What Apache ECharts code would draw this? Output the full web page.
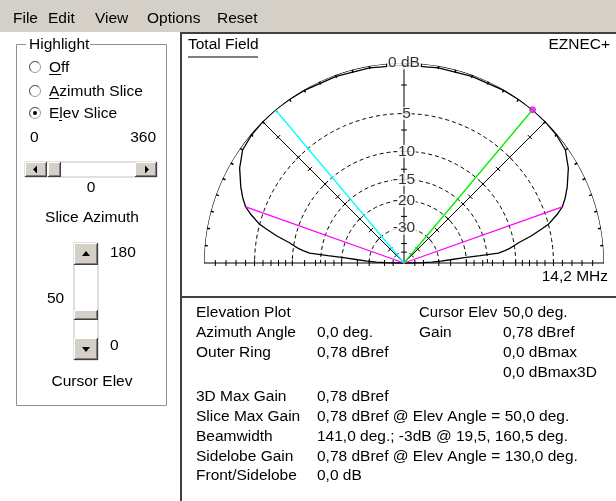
<!DOCTYPE html>
<html>
<head>
<meta charset="utf-8">
<script src="https://cdn.jsdelivr.net/npm/echarts@6/dist/echarts.min.js"></script>
<style>
html, body { margin: 0; padding: 0; background: #fff; }
#chart { width: 616px; height: 501px; }
</style>
</head>
<body>
<div id="chart"></div>
<script>
// ---- Elevation pattern: elevation angle (deg) and field gain (dB below slice max) ----
const elevAngles = [0, 1, 2, 3, 4, 5, 5.5, 6, 7, 8, 9, 10, 12, 14, 15, 17.5, 19.5, 22, 25, 30, 35, 40, 45, 50, 55, 60, 70, 80, 90,
  100, 110, 120, 125, 130, 135, 140, 145, 150, 155, 158, 160.5, 162.5, 165, 166, 168, 170, 171, 172, 173, 174, 174.5, 175, 176, 177, 178, 179, 180];
const gainDb = [-99, -40, -34, -29, -25, -21, -16.5, -12.8, -11.6, -10.7, -10.0, -9.3, -7.4, -5.8, -5.0, -3.8, -3.0, -2.4, -1.8, -0.9, -0.26, -0.08, -0.02, 0, -0.02, -0.06, -0.12, -0.16, -0.18,
  -0.16, -0.12, -0.06, -0.02, 0, -0.02, -0.08, -0.26, -0.9, -1.8, -2.4, -3.0, -3.8, -5.0, -5.8, -7.4, -9.3, -10.0, -10.7, -11.6, -12.8, -16.5, -21, -25, -29, -34, -40, -99];

// Reference rings and their labels on the vertical axis
const ringDb = [-5, -10, -15, -20, -30];
const axisLabels = ['0 dB', '-5', '-10', '-15', '-20', '-30'];
const axisLabelDb = [0, -5, -10, -15, -20, -30];
// Scale tick levels along the horizon and the radial axes
const baseTickDb = [-1, -2, -3, -4, -5, -6, -7, -8, -9, -10, -12, -14, -16, -18, -20, -25, -30, -40, -50];
const radialTickDb = [-2, -5, -7, -10, -13, -15, -20, -25, -30, -40, -50];
const ringTickAngles = [5, 10, 15, 20, 25, 30, 35, 40, 45, 50, 55, 60, 65, 70, 75, 80, 85, 95, 100, 105, 110, 115, 120, 125, 130, 135, 140, 145, 150, 155, 160, 165, 170, 175];

// Cursor / lobe readouts
const cursorElev = 50.0;
const cursorGainDbref = 0.78;
const sidelobeElev = 130.0;
const halfPowerElev = [19.5, 160.5];
const halfPowerDb = -3;
const freqLabel = '14,2 MHz';

const menuItems = ['File', 'Edit', 'View', 'Options', 'Reset'];
const radioItems = ['Off', 'Azimuth Slice', 'Elev Slice'];

// ARRL log-periodic radial scale: 0.89 per 2 dB
const arrl = db => Math.pow(0.89, -db / 2);
const fmt = v => v.toFixed(1).replace('.', ',');
const fmt2 = v => v.toFixed(2).replace('.', ',');

const FONT = '"Liberation Sans", Arial, sans-serif';
const FS = 15.5;

// semicircle sampling for reference arcs
const arcSteps = [];
for (let a = 0; a <= 180; a += 1) arcSteps.push(a);

const series = [];

// dashed rings
ringDb.forEach(db => {
  series.push({
    type: 'line', coordinateSystem: 'polar', silent: true, symbol: 'none', z: 2,
    data: arcSteps.map(a => [arrl(db), a]),
    lineStyle: { color: '#000', width: 1, type: [4, 3] }
  });
});

// outer ring (0 dB)
series.push({
  type: 'line', coordinateSystem: 'polar', silent: true, symbol: 'none', z: 3,
  data: arcSteps.map(a => [1, a]),
  lineStyle: { color: '#000', width: 1.2 }
});

// horizon baseline and radial axes
series.push({
  type: 'line', coordinateSystem: 'polar', silent: true, symbol: 'none', z: 3,
  data: [[1, 0], [0, 0], [0, 180], [1, 180]],
  lineStyle: { color: '#000', width: 1.2 }
});
[45, 90, 135].forEach(a => {
  series.push({
    type: 'line', coordinateSystem: 'polar', silent: true, symbol: 'none', z: 3,
    data: [[0, a], [1, a]],
    lineStyle: { color: '#000', width: 1 }
  });
});

// scale ticks across the axes
const tickData = [];
[0, 180].forEach(a => baseTickDb.forEach(db => tickData.push([arrl(db), a])));
[45, 90, 135].forEach(a => radialTickDb.forEach(db => tickData.push([arrl(db), a])));
series.push({
  type: 'custom', coordinateSystem: 'polar', silent: true, z: 4,
  data: tickData,
  renderItem: (params, api) => {
    const a = api.value(1) * Math.PI / 180;
    const p = api.coord([api.value(0), api.value(1)]);
    const L = 3, px = Math.sin(a), py = Math.cos(a);
    return { type: 'line', shape: { x1: p[0] - L * px, y1: p[1] - L * py, x2: p[0] + L * px, y2: p[1] + L * py },
      style: { stroke: '#000', lineWidth: 1 } };
  }
});
// ticks on the outer ring
series.push({
  type: 'custom', coordinateSystem: 'polar', silent: true, z: 4,
  data: ringTickAngles.map(a => [1, a]),
  renderItem: (params, api) => {
    const a = api.value(1) * Math.PI / 180;
    const p = api.coord([1, api.value(1)]);
    const L = 3;
    return { type: 'line', shape: { x1: p[0], y1: p[1], x2: p[0] - L * Math.cos(a), y2: p[1] + L * Math.sin(a) },
      style: { stroke: '#000', lineWidth: 1.5 } };
  }
});

// elevation pattern
series.push({
  type: 'line', coordinateSystem: 'polar', silent: true, symbol: 'none', z: 5,
  data: elevAngles.map((a, i) => [arrl(gainDb[i]), a]),
  lineStyle: { color: '#000', width: 1.3 }
});

// half-power lines
halfPowerElev.forEach(a => {
  series.push({
    type: 'line', coordinateSystem: 'polar', silent: true, symbol: 'none', z: 6,
    data: [[0, a], [arrl(halfPowerDb), a]],
    lineStyle: { color: '#ff00ff', width: 1.3 }
  });
});
// sidelobe line
series.push({
  type: 'line', coordinateSystem: 'polar', silent: true, symbol: 'none', z: 6,
  data: [[0, sidelobeElev], [1, sidelobeElev]],
  lineStyle: { color: '#00ffff', width: 1.3 }
});
// cursor marker and line
series.push({
  type: 'scatter', coordinateSystem: 'polar', silent: true, z: 6,
  data: [[1, cursorElev]],
  symbol: 'circle', symbolSize: 7,
  itemStyle: { color: '#ff00ff' }
});
series.push({
  type: 'line', coordinateSystem: 'polar', silent: true, symbol: 'none', z: 7,
  data: [[0, cursorElev], [1, cursorElev]],
  lineStyle: { color: '#00ee00', width: 1.3 }
});

// vertical-axis level labels
series.push({
  type: 'scatter', coordinateSystem: 'polar', silent: true, z: 8,
  symbolSize: 0,
  data: axisLabelDb.map((db, i) => ({ value: [arrl(db), 90], name: axisLabels[i] })),
  label: {
    show: true, position: 'inside', formatter: p => p.name,
    color: '#000', fontFamily: FONT, fontSize: FS,
    backgroundColor: '#fff', padding: [0, 1, 0, 1], lineHeight: 13
  }
});

// ---------- window chrome ----------
const g = [];
const txt = (x, y, s, opt = {}) => g.push({
  type: 'text', x, y, silent: true, z: 20,
  style: Object.assign({ text: s, font: `${FS}px ${FONT}`, fill: '#000', textVerticalAlign: 'middle', textAlign: 'left' }, opt)
});
const rect = (x, y, w, h, style, z = 10) => g.push({ type: 'rect', shape: { x, y, width: w, height: h }, style, silent: true, z });
const line = (x1, y1, x2, y2, stroke, lw = 1, z = 12) => g.push({ type: 'line', shape: { x1, y1, x2, y2 }, style: { stroke, lineWidth: lw }, silent: true, z });

// raised 3D button
const bevel = (x, y, w, h) => {
  rect(x, y, w, h, { fill: '#d4d0c8' }, 11);
  line(x + 0.5, y + 0.5, x + w - 0.5, y + 0.5, '#ffffff');
  line(x + 0.5, y + 0.5, x + 0.5, y + h - 0.5, '#ffffff');
  line(x, y + h - 0.5, x + w, y + h - 0.5, '#404040');
  line(x + w - 0.5, y, x + w - 0.5, y + h, '#404040');
  line(x + 1, y + h - 1.5, x + w - 1, y + h - 1.5, '#808080');
  line(x + w - 1.5, y + 1, x + w - 1.5, y + h - 1, '#808080');
};
const tri = (pts) => g.push({ type: 'polygon', shape: { points: pts }, style: { fill: '#000' }, silent: true, z: 13 });

// menu bar
rect(0, 0, 616, 32, { fill: '#d4d0c8' }, 9);
const menuX = [13, 48, 95, 147, 217];
menuItems.forEach((m, i) => txt(menuX[i], 19, m));

// plot frame
line(180, 33, 616, 33, '#404040', 2, 12);
line(181, 33, 181, 501, '#404040', 2, 12);
line(181, 297, 616, 297, '#404040', 2, 12);

// plot captions
txt(188, 45, 'Total Field');
line(188, 57, 258, 57, '#000', 1);
txt(610, 45, 'EZNEC+', { textAlign: 'right' });
txt(608, 277, freqLabel, { textAlign: 'right' });

// group box
rect(16.5, 44.5, 150, 361, { fill: 'none', stroke: '#909090', lineWidth: 1 }, 10);
rect(26, 37, 64, 16, { fill: '#fff' }, 11);
txt(29, 45, 'Highlight');

// radio buttons
const radioY = [67, 91, 113];
radioItems.forEach((s, i) => {
  g.push({ type: 'circle', shape: { cx: 35, cy: radioY[i], r: 5.5 }, style: { fill: '#fff', stroke: '#a0a0a0', lineWidth: 1 }, silent: true, z: 12 });
  g.push({ type: 'arc', shape: { cx: 35, cy: radioY[i], r: 5.5, startAngle: Math.PI * 0.75, endAngle: Math.PI * 1.75, clockwise: true }, style: { stroke: '#606060', lineWidth: 1, fill: 'none' }, silent: true, z: 13 });
  txt(49, radioY[i] + 1, s);
});
g.push({ type: 'circle', shape: { cx: 35, cy: radioY[2], r: 2 }, style: { fill: '#000' }, silent: true, z: 14 });
line(49, 74.5, 61, 74.5, '#000');
line(49, 98.5, 59, 98.5, '#000');
line(59, 120.5, 62, 120.5, '#000');

// slice azimuth scrollbar
txt(30, 138, '0');
txt(156, 138, '360', { textAlign: 'right' });
rect(25, 162, 132, 15, { fill: '#fff', stroke: '#c0c0c0', lineWidth: 1 }, 10);
bevel(25, 162, 22, 15);
bevel(48, 162, 13, 15);
bevel(135, 162, 22, 15);
tri([[33, 169.5], [37, 165.5], [37, 173.5]]);
tri([[149, 169.5], [145, 165.5], [145, 173.5]]);
txt(91, 188, '0', { textAlign: 'center' });
txt(92, 218, 'Slice Azimuth', { textAlign: 'center' });

// cursor elevation scrollbar
rect(74, 243, 24, 117, { fill: '#fff', stroke: '#c0c0c0', lineWidth: 1 }, 10);
bevel(74, 243, 24, 22);
bevel(74, 310, 24, 10);
bevel(74, 338, 24, 22);
tri([[86, 251], [82, 256], [90, 256]]);
tri([[86, 352], [82, 347], [90, 347]]);
txt(110, 253, '180');
txt(47, 299, String(cursorElev));
txt(110, 346, '0');
txt(92, 382, 'Cursor Elev', { textAlign: 'center' });

// readout table
const c1 = 196, c2 = 317, c3 = 419, c4 = 503;
const rowY = [313, 333, 353, 373, 397, 417, 437, 457, 476];
txt(c1, rowY[0], 'Elevation Plot');
txt(c3, rowY[0], 'Cursor Elev', { font: `15px ${FONT}` });
txt(c4, rowY[0], fmt(cursorElev) + ' deg.');
txt(c1, rowY[1], 'Azimuth Angle');
txt(c2, rowY[1], fmt(0) + ' deg.');
txt(c3, rowY[1], 'Gain');
txt(c4, rowY[1], fmt2(cursorGainDbref) + ' dBref');
txt(c1, rowY[2], 'Outer Ring');
txt(c2, rowY[2], fmt2(cursorGainDbref) + ' dBref');
txt(c4, rowY[2], fmt(0) + ' dBmax');
txt(c4, rowY[3], fmt(0) + ' dBmax3D');
txt(c1, rowY[4], '3D Max Gain');
txt(c2, rowY[4], fmt2(cursorGainDbref) + ' dBref');
txt(c1, rowY[5], 'Slice Max Gain');
txt(c2, rowY[5], fmt2(cursorGainDbref) + ' dBref @ Elev Angle = ' + fmt(cursorElev) + ' deg.');
txt(c1, rowY[6], 'Beamwidth');
txt(c2, rowY[6], fmt(halfPowerElev[1] - halfPowerElev[0]) + ' deg.; ' + halfPowerDb + 'dB @ ' + fmt(halfPowerElev[0]) + ', ' + fmt(halfPowerElev[1]) + ' deg.');
txt(c1, rowY[7], 'Sidelobe Gain');
txt(c2, rowY[7], fmt2(cursorGainDbref) + ' dBref @ Elev Angle = ' + fmt(sidelobeElev) + ' deg.');
txt(c1, rowY[8], 'Front/Sidelobe');
txt(c2, rowY[8], fmt(0) + ' dB');

const chart = echarts.init(document.getElementById('chart'));
chart.setOption({
  animation: false,
  backgroundColor: '#fff',
  polar: { center: [404, 263], radius: 200 },
  angleAxis: {
    type: 'value', min: 0, max: 360, startAngle: 0, clockwise: false,
    axisLine: { show: false }, axisTick: { show: false }, axisLabel: { show: false }, splitLine: { show: false }
  },
  radiusAxis: {
    type: 'value', min: 0, max: 1,
    axisLine: { show: false }, axisTick: { show: false }, axisLabel: { show: false }, splitLine: { show: false }
  },
  series,
  graphic: { elements: g }
});
</script>
</body>
</html>
